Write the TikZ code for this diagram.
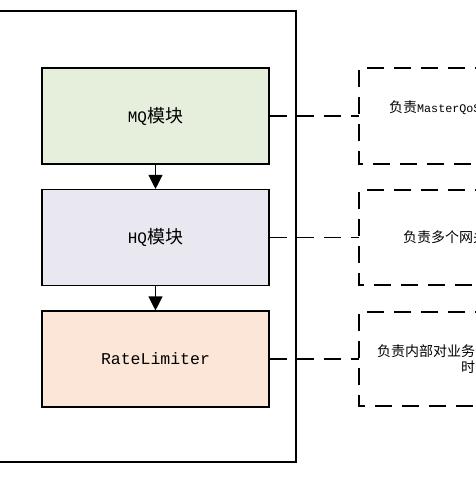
\documentclass[tikz,border=0pt]{standalone}
\usepackage{fontspec}
\setmainfont{Liberation Serif}
\newfontfamily\cjk{Noto Sans CJK SC}
\newfontfamily\mono{Liberation Mono}
\usetikzlibrary{arrows.meta}
\definecolor{mqfill}{RGB}{230,238,220}
\definecolor{hqfill}{RGB}{233,231,240}
\definecolor{rlfill}{RGB}{251,230,215}
\tikzset{
  modbox/.style={draw=black, line width=1.1pt, minimum width=227pt, minimum height=96pt, inner sep=0pt},
  notebox/.style={draw=black, line width=1.1pt, dash pattern=on 17pt off 10pt},
  link/.style={line width=1.1pt, dash pattern=on 17pt off 10pt},
  flow/.style={line width=1.1pt, -{Triangle[length=14pt,width=14pt]}},
  notetext/.style={font=\fontsize{14}{16}\selectfont, anchor=west, inner sep=0pt}
}
\begin{document}
\begin{tikzpicture}[x=1pt,y=-1pt]
\useasboundingbox (0,0) rectangle (476,477);
\fill[white] (0,0) rectangle (476,477);
% outer frame
\draw[line width=1.2pt] (-5,11) rectangle (296,462);
% modules
\node[modbox, fill=mqfill] (mq) at (155.5,116) {{\fontsize{16}{18}\mono MQ}{\fontsize{18}{20}\cjk 模块}};
\node[modbox, fill=hqfill] (hq) at (155.5,237.5) {{\fontsize{16}{18}\mono HQ}{\fontsize{18}{20}\cjk 模块}};
\node[modbox, fill=rlfill] (rl) at (155.5,359) {\fontsize{16.5}{18}\mono RateLimiter};
\draw[flow] (mq.south) -- (hq.north);
\draw[flow] (hq.south) -- (rl.north);
% note boxes
\draw[notebox] (600,68) -- (359,68) -- (359,164) -- (600,164);
\draw[notebox] (600,190) -- (359,190) -- (359,285) -- (600,285);
\draw[notebox] (600,312) -- (359,312) -- (359,406) -- (600,406);
\coordinate (n1) at (359,116);
\coordinate (n2) at (359,237.5);
\coordinate (n3) at (359,359);
\draw[link] (mq.east) -- (n1);
\draw[link] (hq.east) -- (n2);
\draw[link] (rl.east) -- (n3);
% note texts
\node[notetext] (t1) at (389,108) {{\cjk 负责}{\fontsize{11.7}{14}\mono MasterQoS}};
\node[notetext] (t2) at (403,237.5) {\cjk 负责多个网关};
\node[notetext] (t3) at (377,351) {\cjk 负责内部对业务};
\node[notetext] (t4) at (461,367) {\cjk 时};
\end{tikzpicture}
\end{document}
